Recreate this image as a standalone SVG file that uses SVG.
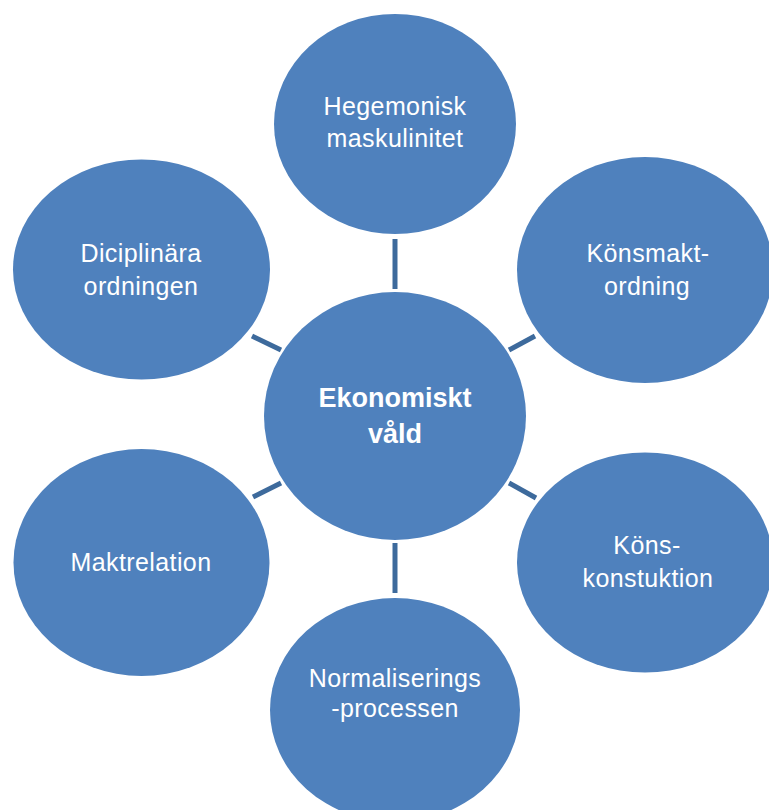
<svg xmlns="http://www.w3.org/2000/svg" width="769" height="810" viewBox="0 0 769 810">
<style>
.node{fill:#4F81BD}
.lbl{font-family:"Liberation Sans",Arial,sans-serif;font-size:25px;fill:#FFFFFF;text-anchor:middle;letter-spacing:0.4px}
.ctr{font-family:"Liberation Sans",Arial,sans-serif;font-size:27px;font-weight:bold;fill:#FFFFFF;text-anchor:middle}
.conn line{stroke:#3D6A9C;stroke-width:5}
</style>
<rect width="769" height="810" fill="#FFFFFF"/>
<g id="connectors" class="conn">
<line x1="395" y1="239" x2="395" y2="289"/>
<line x1="395" y1="543" x2="395" y2="593"/>
<line x1="252" y1="336" x2="281" y2="350"/>
<line x1="509" y1="350" x2="535" y2="336"/>
<line x1="253" y1="497" x2="281" y2="483"/>
<line x1="509" y1="483" x2="536" y2="498"/>
</g>
<g id="center">
<ellipse class="node" cx="395" cy="416" rx="131" ry="124"/>
<text class="ctr" x="395" y="407">Ekonomiskt</text>
<text class="ctr" x="395" y="443">våld</text>
</g>
<g id="hegemonisk">
<ellipse class="node" cx="395" cy="124" rx="121" ry="110"/>
<text class="lbl" x="395" y="115">Hegemonisk</text>
<text class="lbl" x="395" y="147">maskulinitet</text>
</g>
<g id="konsmakt">
<ellipse class="node" cx="645" cy="270" rx="128" ry="113"/>
<text class="lbl" x="648" y="262">Könsmakt-</text>
<text class="lbl" x="647" y="295">ordning</text>
</g>
<g id="kons">
<ellipse class="node" cx="645" cy="562.5" rx="128" ry="110"/>
<text class="lbl" x="647" y="554">Köns-</text>
<text class="lbl" x="648" y="587">konstuktion</text>
</g>
<g id="normalisering">
<ellipse class="node" cx="395" cy="710" rx="125" ry="112"/>
<text class="lbl" x="395" y="687">Normaliserings</text>
<text class="lbl" x="395" y="717">-processen</text>
</g>
<g id="maktrelation">
<ellipse class="node" cx="141.5" cy="562.5" rx="128" ry="113.5"/>
<text class="lbl" x="141" y="571">Maktrelation</text>
</g>
<g id="diciplinara">
<ellipse class="node" cx="141.5" cy="269.5" rx="128.5" ry="110"/>
<text class="lbl" x="141" y="262">Diciplinära</text>
<text class="lbl" x="141" y="295">ordningen</text>
</g>
</svg>
